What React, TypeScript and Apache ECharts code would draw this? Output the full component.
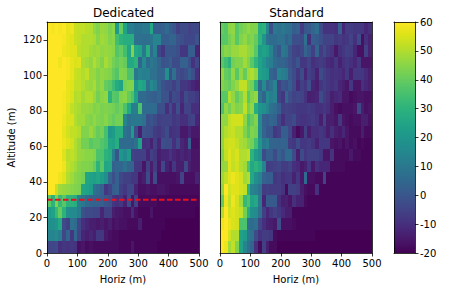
import React, { useEffect, useRef } from "react";
import * as echarts from "echarts";

const xTicks = [0, 100, 200, 300, 400, 500];
const yTicks = [0, 20, 40, 60, 80, 100, 120];
const cbTicks = [-20, -10, 0, 10, 20, 30, 40, 50, 60];
const viridis = ["#440154","#481769","#472a7a","#433d84","#3d4e8a","#355e8d","#2e6d8e","#297b8e","#23898e","#1f968b","#20a386","#29af7f","#3dbc74","#56c667","#75d054","#95d840","#bade28","#dde318","#fde725"];
const threshold = [[0, 30], [500, 30]];
const cellW = 12.5;
const cellH = 6.5;

// rows listed from the top (123.5-130 m) down to the bottom (0-6.5 m)
const dedicated = [
[60,59,60,59,60,57,58,53,52,52,51,50,46,44,47,46,43,45,22,40,24,12,12,9,9,10,10,26,2,2,3,6,2,0,-6,-3,-3,-5,-4,-4],
[60,60,60,60,59,57,56,53,52,50,50,50,49,45,48,47,44,45,34,30,28,28,28,8,8,7,7,9,14,14,2,2,4,4,-1,-2,-4,-4,-4,-1],
[60,60,60,60,58,57,56,56,51,50,50,48,47,48,46,47,46,45,37,40,34,25,44,26,24,10,28,6,14,-4,-8,0,0,0,-2,-8,-8,2,2,-12],
[60,60,60,58,60,59,57,55,56,49,48,46,50,47,44,49,46,42,40,42,40,26,26,30,4,16,6,10,8,4,-1,0,2,-3,-3,3,3,-2,-9,-4],
[60,60,60,60,60,59,57,53,52,50,52,47,47,44,46,45,44,40,37,44,43,36,36,10,14,12,13,8,8,4,4,18,-2,8,-2,-4,-2,2,-2,-10],
[60,60,60,60,60,57,56,52,52,50,48,47,49,44,46,40,38,33,27,24,42,44,44,20,26,24,8,16,12,4,-1,-3,-3,-6,-2,-8,-8,-10,-12,-14],
[60,60,60,60,59,57,55,50,51,48,50,50,47,42,45,46,30,38,37,44,45,40,36,24,6,6,4,3,2,5,-1,-1,-8,-3,-4,-10,-3,-6,-6,-8],
[60,60,60,60,59,56,52,50,49,47,47,46,44,45,43,44,43,42,40,42,36,26,12,12,36,6,6,6,6,-2,-2,-10,-3,-10,-2,-12,-5,-5,-10,-10],
[60,60,60,60,58,55,55,50,48,48,45,44,46,44,43,45,42,40,42,42,14,8,10,10,10,8,-2,0,-3,-6,-5,-5,-5,-8,-7,-10,-10,-6,-5,-12],
[60,60,60,60,57,54,52,52,50,44,44,47,44,40,42,35,20,22,28,28,8,6,22,-2,-13,-1,-2,-3,-7,-8,-6,-3,-10,-9,-8,-15,-15,-12,-15,-15],
[60,60,60,60,58,56,54,50,47,42,42,38,40,40,37,35,25,24,28,6,6,6,5,8,24,-10,-9,-13,-6,-12,-2,-3,-3,-10,-4,-12,-14,2,-17,-17],
[60,60,60,60,56,51,52,50,47,46,45,45,44,36,36,30,28,12,0,20,16,22,-5,-6,-6,-6,-12,-6,-8,-14,-12,-12,-9,-12,-14,-12,-14,-12,-16,-16],
[60,60,60,60,58,52,50,48,45,44,44,43,40,30,38,25,26,3,5,5,8,4,4,-8,-8,-16,-6,-14,-7,-15,-4,-13,-16,-8,-14,-14,-4,-14,-16,-16],
[60,60,60,58,56,50,48,45,44,42,25,24,23,25,22,18,4,-2,3,-4,-6,-6,-8,-8,-16,-14,-3,-16,-3,-17,-17,-17,-17,-17,-16,-5,-17,-17,-17,-13],
[60,60,53,48,47,46,45,44,43,25,24,22,8,6,3,-8,-5,2,3,-6,-8,-4,-4,-13,-17,-17,-16,-17,-17,-16,-16,-17,-18,-18,-18,-18,-18,-18,-18,-18],
[38,30,44,32,38,30,30,28,12,10,6,4,3,3,2,0,-2,-8,-10,-8,-13,-3,-16,-6,-18,-18,-18,-18,-18,-19,-19,-19,-19,-19,-19,-19,-19,-19,-19,-19],
[22,24,32,40,30,18,16,16,12,-1,-3,-3,-4,-4,-12,-6,-6,-14,-15,-16,-17,-17,-11,-17,-19,-19,-19,-16,-19,-19,-19,-19,-19,-19,-19,-19,-19,-19,-19,-20],
[18,18,20,26,-3,-6,8,6,-4,-10,-12,-14,-14,-15,-14,-16,-14,-17,-16,-17,-17,-18,-18,-18,-14,-19,-19,-19,-19,-19,-19,-20,-20,-20,-20,-20,-20,-20,-20,-20],
[14,14,16,12,-4,4,-8,5,-5,-12,-14,-12,-14,-8,-8,-15,-17,-18,-18,-19,-19,-19,-19,-19,-19,-19,-19,-19,-19,-19,-20,-20,-20,-20,-20,-20,-20,-20,-20,-20],
[-4,-4,-3,-10,-8,-9,-8,-9,-17,-16,-18,-17,-18,-18,-18,-18,-18,-18,-18,-19,-19,-19,-16,-19,-19,-19,-19,-19,-19,-20,-20,-20,-20,-20,-20,-20,-20,-20,-20,-20],
];

const standard = [
[40,38,45,46,38,42,44,46,44,44,28,30,14,-2,10,8,10,8,7,2,3,-7,0,1,5,7,-3,-9,-9,-9,-10,2,-12,-7,-7,-8,-8,-8,-12,-10],
[38,38,42,45,38,44,46,42,44,40,30,20,8,6,6,8,8,3,6,-2,-2,-3,8,-10,2,1,-2,-5,-5,-5,-8,-7,-9,-8,-5,-10,-3,-17,-10,-13],
[42,45,44,47,47,49,49,46,45,38,22,24,22,14,4,0,10,8,0,-5,-6,-4,4,0,-6,4,-7,-3,-7,-9,-15,-10,-8,-6,-7,-12,-17,-17,-6,-13],
[38,34,30,42,44,44,48,44,38,31,24,20,14,12,6,4,4,2,-1,-4,0,-8,-8,-5,-10,-8,-7,-8,-11,-12,-8,-13,-10,-8,-10,-12,-8,-16,-16,-16],
[46,40,38,46,38,46,40,48,50,46,24,22,20,4,2,14,12,10,1,-3,-8,-3,-12,-6,-8,-13,-3,-6,-8,-10,-9,-10,-12,-8,-14,-8,-8,-8,-11,-14],
[44,42,40,44,47,52,52,44,42,30,5,16,4,8,14,-5,0,-2,2,-3,-11,-6,-8,-2,-12,-14,-8,-6,-8,-10,-8,-12,-14,-16,-8,-16,-16,-10,-12,-14],
[38,38,50,46,40,44,50,38,44,46,10,4,16,12,14,-5,-8,4,-2,-5,-4,-5,-9,-14,-13,-12,-3,-7,-9,-14,-12,-11,-16,-16,-18,-17,-16,-16,-17,-17],
[36,46,42,47,44,45,52,42,46,28,20,18,14,8,6,2,-6,-5,-6,-7,-8,-8,-8,-7,-8,-10,-10,-8,-10,-14,-17,-18,-17,-17,-17,-16,-4,-14,-17,-16],
[46,46,52,54,54,54,46,36,40,44,16,3,2,5,3,-4,-10,-5,-5,-3,-8,-9,-9,-8,-7,-9,-14,-5,-14,-14,-16,-8,-16,-17,-18,-17,-17,-14,-14,-17],
[46,50,52,53,50,50,44,38,44,42,16,4,0,0,-8,-6,2,2,-4,-13,-18,-15,-6,-14,-10,-10,-8,-10,-14,-10,-14,-15,-12,-16,-18,-18,-18,-14,-18,-18],
[46,53,54,54,52,49,48,44,42,34,20,10,12,4,4,3,4,3,-7,-8,-3,-8,-8,-7,-9,-13,-8,-8,-8,-16,-17,-16,-18,-16,-18,-17,-19,-18,-19,-19],
[44,52,56,53,55,50,50,52,30,22,18,-3,2,2,-3,3,0,6,6,-3,-14,-3,-8,-6,-6,-6,-8,-16,-16,-9,-18,-18,-18,-18,-15,-18,-18,-19,-19,-19],
[46,47,56,52,54,50,48,36,26,30,26,14,-7,-6,-5,-4,-7,-7,-5,-10,-11,-15,-13,-8,-15,-10,-12,-12,-12,-18,-18,-18,-18,-19,-19,-19,-19,-19,-19,-19],
[48,52,56,58,56,54,48,50,26,18,14,3,2,2,-8,-7,-10,-8,-8,-13,-8,-15,6,-17,-17,-18,-18,-5,-19,-19,-19,-19,-19,-19,-19,-19,-19,-19,-19,-19],
[46,60,54,56,56,54,52,30,14,12,8,-7,-6,-7,-7,-7,-9,-18,-6,-6,-7,-14,-17,-18,-18,-10,-19,-19,-19,-19,-19,-19,-19,-19,-19,-19,-19,-19,-19,-19],
[40,58,52,58,54,48,32,36,24,26,10,-12,1,1,1,-10,-14,-13,-16,-10,-13,-13,-18,-19,-19,-19,-19,-19,-19,-19,-19,-19,-19,-19,-19,-19,-19,-19,-19,-19],
[50,60,54,56,54,52,42,28,18,16,8,-6,-12,-8,-6,-8,-11,-14,-14,-19,-19,-19,-19,-19,-19,-19,-19,-19,-19,-19,-19,-19,-19,-19,-19,-19,-19,-19,-19,-19],
[58,60,57,55,54,36,36,8,6,8,-4,-10,-13,-14,-15,-2,-17,-17,-17,-18,-19,-19,-19,-19,-19,-19,-19,-19,-19,-19,-19,-19,-19,-19,-19,-19,-19,-19,-19,-19],
[60,60,54,50,50,24,22,10,8,-3,-9,-7,-7,-8,-18,-19,-19,-19,-19,-19,-19,-19,-19,-19,-19,-20,-20,-20,-20,-20,-20,-20,-20,-20,-20,-20,-20,-20,-20,-20],
[60,58,48,52,44,24,14,8,4,-10,-18,-6,-14,-18,-18,-20,-20,-20,-20,-20,-20,-20,-20,-20,-20,-20,-20,-20,-20,-20,-20,-20,-20,-20,-20,-20,-20,-20,-20,-20],
];

const font = "DejaVu Sans";
const toCells = (rows: number[][]) => {
  const out: number[][] = [];
  rows.forEach((row, k) => row.forEach((v, c) => out.push([c * cellW, (rows.length - 1 - k) * cellH, v])));
  return out;
};
const cbLevels: number[][] = [];
for (let i = 0; i < 231; i++) {
  const lo = -20 + (i * 80) / 231;
  cbLevels.push([0, lo, lo + 40 / 231]);
}

const rectOf = (a: number[], b: number[], fill: any) => {
  const l = Math.round(a[0]), r = Math.round(b[0]), t = Math.round(a[1]), bt = Math.round(b[1]);
  return { type: "rect", shape: { x: l, y: t, width: r - l, height: bt - t }, style: { fill, stroke: null } };
};
const renderCell = (_: any, api: any) => {
  const x = api.value(0), y = api.value(1);
  return rectOf(api.coord([x, y + cellH]), api.coord([x + cellW, y]), api.visual("color"));
};
const renderBar = (_: any, api: any) => {
  const y = api.value(1);
  return rectOf(api.coord([0, y + 80 / 231]), api.coord([1, y]), api.visual("color"));
};

const grids = [
  { left: 47, top: 22, width: 152, height: 231 },
  { left: 220, top: 22, width: 152, height: 231 },
  { left: 394, top: 22, width: 21, height: 231 },
];
const line = { show: true, onZero: false, lineStyle: { color: "#000", width: 0.8 } };
const tick = { show: true, length: 3.5, lineStyle: { color: "#000", width: 0.8 } };
const label = { color: "#000", fontSize: 10, fontFamily: font };
const frameX = (gridIndex: number, min: number, max: number) => ({
  type: "value", gridIndex, min, max, position: "top", z: 5, axisLine: line,
  axisTick: { show: false }, axisLabel: { show: false }, splitLine: { show: false },
});
const frameY = (gridIndex: number, min: number, max: number, position: string) => ({
  type: "value", gridIndex, min, max, position, z: 5, axisLine: line,
  axisTick: { show: false }, axisLabel: { show: false }, splitLine: { show: false },
});
const mainX = (gridIndex: number) => ({
  type: "value", gridIndex, min: 0, max: 500, interval: 100, position: "bottom", z: 5,
  name: "Horiz (m)", nameLocation: "middle", nameGap: 21,
  nameTextStyle: { color: "#000", fontSize: 10, fontFamily: font },
  axisLine: line, axisTick: tick, axisLabel: { ...label, margin: 5, customValues: xTicks },
  splitLine: { show: false },
});

const option = {
  animation: false,
  backgroundColor: "#fff",
  title: [
    { text: "Dedicated", left: 118.5, top: 2, textAlign: "center", textStyle: { color: "#000", fontSize: 12, fontWeight: "normal", fontFamily: font } },
    { text: "Standard", left: 291.5, top: 2, textAlign: "center", textStyle: { color: "#000", fontSize: 12, fontWeight: "normal", fontFamily: font } },
  ],
  grid: grids,
  xAxis: [mainX(0), frameX(0, 0, 500), mainX(1), frameX(1, 0, 500),
    { type: "value", gridIndex: 2, min: 0, max: 1, position: "bottom", z: 5, axisLine: line, axisTick: { show: false }, axisLabel: { show: false }, splitLine: { show: false } },
    frameX(2, 0, 1)],
  yAxis: [
    { type: "value", gridIndex: 0, min: 0, max: 130, position: "left", z: 5,
      name: "Altitude (m)", nameLocation: "middle", nameGap: 31,
      nameTextStyle: { color: "#000", fontSize: 10, fontFamily: font },
      axisLine: line, axisTick: { ...tick, customValues: yTicks },
      axisLabel: { ...label, margin: 5, customValues: yTicks }, splitLine: { show: false } },
    frameY(0, 0, 130, "right"),
    frameY(1, 0, 130, "left"),
    frameY(1, 0, 130, "right"),
    frameY(2, -20, 60, "left"),
    { type: "value", gridIndex: 2, min: -20, max: 60, interval: 10, position: "right", z: 5,
      axisLine: line, axisTick: { ...tick, customValues: cbTicks },
      axisLabel: { ...label, margin: 5, customValues: cbTicks }, splitLine: { show: false } },
  ],
  visualMap: {
    type: "continuous", show: false, min: -20, max: 60, dimension: 2, seriesIndex: [0, 1, 2],
    inRange: { color: viridis },
  },
  series: [
    { type: "custom", xAxisIndex: 0, yAxisIndex: 0, renderItem: renderCell, data: toCells(dedicated), silent: true },
    { type: "custom", xAxisIndex: 2, yAxisIndex: 2, renderItem: renderCell, data: toCells(standard), silent: true },
    { type: "custom", xAxisIndex: 4, yAxisIndex: 5, renderItem: renderBar, data: cbLevels, silent: true },
    { type: "line", xAxisIndex: 0, yAxisIndex: 0, data: threshold, showSymbol: false, symbol: "none", z: 4, silent: true,
      lineStyle: { color: "#e8101e", width: 2, type: [5.5, 2.5] } },
  ],
};

export default function App() {
  const ref = useRef<HTMLDivElement>(null);
  useEffect(() => {
    const chart = echarts.init(ref.current!, undefined, { renderer: "svg" });
    chart.setOption(option as any);
    return () => chart.dispose();
  }, []);
  return <div ref={ref} style={{ position: "fixed", left: 0, top: 0, width: 450, height: 291 }} />;
}
